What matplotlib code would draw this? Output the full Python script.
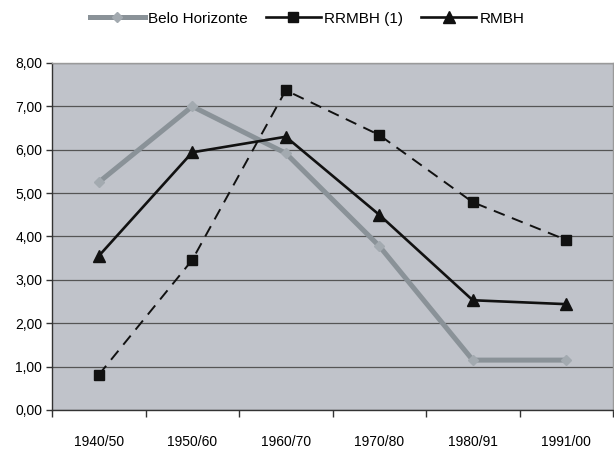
import numpy as np
import matplotlib.pyplot as plt
from matplotlib.ticker import FixedLocator, FuncFormatter

plt.rcParams['font.family'] = ['Liberation Sans', 'DejaVu Sans']

periods = ["1940/50", "1950/60", "1960/70", "1970/80", "1980/91", "1991/00"]
belo_horizonte = [5.25, 7.00, 5.92, 3.78, 1.15, 1.15]
rrmbh = [0.81, 3.46, 7.37, 6.34, 4.79, 3.92]
rmbh = [3.55, 5.94, 6.30, 4.50, 2.53, 2.44]

x = np.arange(len(periods))

fig = plt.figure(figsize=(6.14, 4.49), dpi=100)
ax = fig.add_axes([0.0847, 0.0869, 0.9137, 0.7728])
ax.set_facecolor("#c0c3ca")

ax.plot(x, belo_horizonte, color="#8a9298", lw=3.6, marker="D", ms=5,
        mfc="#a3aab0", mec="#a3aab0", label="Belo Horizonte", zorder=3)
ax.plot(x, rrmbh, color="#111111", lw=1.4, ls=(0, (6, 4)), marker="s", ms=7,
        mfc="#111111", mec="#111111", label="RRMBH (1)", zorder=4)
ax.plot(x, rmbh, color="#111111", lw=1.9, marker="^", ms=8,
        mfc="#111111", mec="#111111", label="RMBH", zorder=5)

ax.set_xlim(-0.5, len(periods) - 0.5)
ax.set_ylim(0, 8)
ax.set_yticks(np.arange(0, 9, 1))
ax.yaxis.set_major_formatter(FuncFormatter(lambda v, p: f"{v:.2f}".replace(".", ",")))
ax.grid(axis="y", color="#555555", lw=0.9)
ax.set_axisbelow(True)

# category labels centered, tick marks on the boundaries
ax.set_xticks(x)
ax.set_xticklabels(periods)
ax.xaxis.set_minor_locator(FixedLocator(np.arange(-0.5, len(periods), 1)))
ax.tick_params(axis="x", which="major", length=0, pad=18, labelsize=10)
ax.tick_params(axis="x", which="minor", length=5, width=1, color="#333333", direction="out")
ax.tick_params(axis="y", length=4, width=1, color="#333333", labelsize=10, pad=3)

for side in ["left", "bottom"]:
    ax.spines[side].set_color("#333333")
    ax.spines[side].set_linewidth(1.0)
for side in ["top", "right"]:
    ax.spines[side].set_color("#9a9a9a")
    ax.spines[side].set_linewidth(1.0)

leg = fig.legend(loc="upper center", bbox_to_anchor=(0.50, 1.005), ncol=3, frameon=False,
                 fontsize=11, handlelength=3.6, columnspacing=1.2, handletextpad=0.2)
for line in leg.get_lines():
    line.set_linestyle("-")
    line.set_linewidth(max(line.get_linewidth(), 1.9))

fig.savefig("out.png", dpi=100)
